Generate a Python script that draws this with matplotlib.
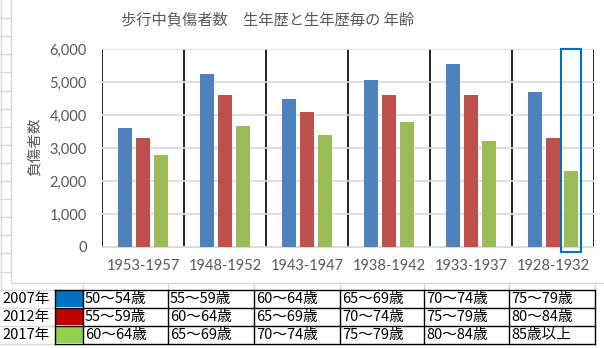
import matplotlib.pyplot as plt
from matplotlib.patches import Rectangle
from matplotlib.transforms import blended_transform_factory
import numpy as np

plt.rcParams['font.family'] = ['Noto Sans CJK JP', 'DejaVu Sans']

W, H = 604, 348

title = "歩行中負傷者数　生年歴と生年歴毎の 年齢"
y_label = "負傷者数"
birth_years = ["1953-1957", "1948-1952", "1943-1947", "1938-1942", "1933-1937", "1928-1932"]
injured_2007 = [3600, 5250, 4500, 5050, 5550, 4700]
injured_2012 = [3300, 4600, 4100, 4600, 4600, 3300]
injured_2017 = [2800, 3670, 3400, 3800, 3200, 2300]

survey_years = ["2007年", "2012年", "2017年"]
age_2007 = ["50～54歳", "55～59歳", "60～64歳", "65～69歳", "70～74歳", "75～79歳"]
age_2012 = ["55～59歳", "60～64歳", "65～69歳", "70～74歳", "75～79歳", "80～84歳"]
age_2017 = ["60～64歳", "65～69歳", "70～74歳", "75～79歳", "80～84歳", "85歳以上"]

bar_colors = ["#4f81bd", "#c0504d", "#9bbb59"]
cell_colors = ["#0070c0", "#c00000", "#92d050"]
text_gray = "#595959"
grid_gray = "#d9d9d9"

fig = plt.figure(figsize=(W / 100, H / 100), dpi=100)

# sheet background in pixel coordinates
bg = fig.add_axes([0, 0, 1, 1])
bg.set_xlim(0, W)
bg.set_ylim(H, 0)
bg.axis('off')

row_h = 18.1
for k in range(1, 16):
    bg.plot([0, 11], [k * row_h, k * row_h], color=grid_gray, lw=1)
bg.plot([1, 1], [0, 289.6], color=grid_gray, lw=1)

# chart area
bg.add_patch(Rectangle((11, -5), 620, 288, facecolor="white", edgecolor=grid_gray, lw=1))

# table under the chart
col_x = [55, 83, 168, 254, 340, 424, 509, 595]
row_y = [289.6, 307.7, 325.8, 343.9]
for x in col_x[1:]:
    bg.plot([x, x], [283, row_y[0]], color=grid_gray, lw=1)
for y in row_y:
    bg.plot([0, col_x[0]], [y, y], color=grid_gray, lw=1)
    bg.plot([col_x[0], col_x[-1]], [y, y], color="black", lw=1)
for x in col_x:
    bg.plot([x, x], [row_y[0], row_y[-1]], color="black", lw=1)

ages = [age_2007, age_2012, age_2017]
for r in range(3):
    y0, y1 = row_y[r], row_y[r + 1]
    yc = (y0 + y1) / 2
    bg.add_patch(Rectangle((col_x[0] + 0.5, y0 + 0.5), col_x[1] - col_x[0] - 1, y1 - y0 - 1,
                           facecolor=cell_colors[r], edgecolor="none"))
    bg.text(2, yc, survey_years[r], fontsize=10.5, va="center", ha="left", color="black")
    for c, label in enumerate(ages[r]):
        bg.text(col_x[c + 1] + 2, yc, label, fontsize=10.5, va="center", ha="left", color="black")

# bar chart
ax = fig.add_axes([102 / W, (H - 247) / H, 492 / W, 198 / H])
ax.set_facecolor("none")
x = np.arange(len(birth_years)) + 0.5
step, width = 0.223, 0.174
for k, vals in enumerate([injured_2007, injured_2012, injured_2017]):
    ax.bar(x + (k - 1) * step, vals, width, color=bar_colors[k], zorder=3)

ax.set_xlim(0, 6)
ax.set_ylim(0, 6000)
ax.set_yticks(range(0, 6001, 1000))
ax.set_yticklabels([f"{v:,}" for v in range(0, 6001, 1000)], family="Lato", fontsize=10.5, color=text_gray)
ax.set_xticks(x)
ax.set_xticklabels(birth_years, family="Lato", fontsize=10.5, color=text_gray)
ax.set_xticks(range(7), minor=True)
ax.tick_params(axis="both", which="both", length=0)
ax.tick_params(axis="y", pad=11)
ax.tick_params(axis="x", pad=9)
ax.grid(axis="y", color=grid_gray, lw=1.2, zorder=0)
ax.grid(axis="x", which="minor", color="black", lw=1.2, zorder=1)
for s in ["top", "left", "right"]:
    ax.spines[s].set_visible(False)
ax.spines["bottom"].set_color(grid_gray)

# selection box around the last green bar
tr = blended_transform_factory(ax.transData, ax.transAxes)
sel_x = x[-1] + step
ax.add_patch(Rectangle((sel_x - 0.122, -0.025), 0.244, 1.025, transform=tr,
                       fill=False, edgecolor="#0070c0", lw=1.5, clip_on=False, zorder=4))

fig.text(268 / W, 1 - 20 / H, title, fontsize=11, color=text_gray, ha="center", va="center")
fig.text(35 / W, 1 - 147 / H, y_label, fontsize=10.5, color=text_gray, ha="center", va="center",
         rotation=90)

fig.savefig("out.png", dpi=100)
